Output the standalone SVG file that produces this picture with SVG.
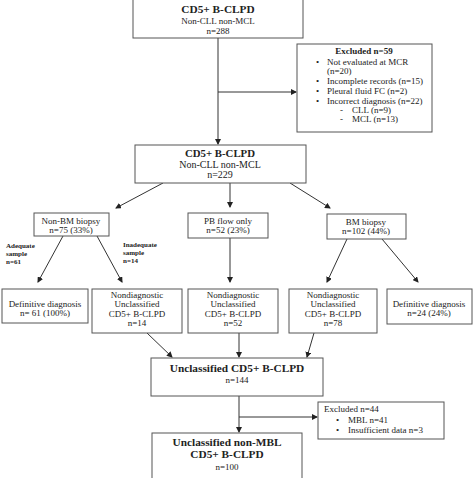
<svg xmlns="http://www.w3.org/2000/svg" width="474" height="478" viewBox="0 0 474 478">
<defs>
<marker id="ah" markerWidth="6" markerHeight="6" refX="5" refY="3" orient="auto" markerUnits="userSpaceOnUse">
<path d="M0,0 L6,3 L0,6 z" fill="#222"/>
</marker>
<style>
rect{fill:#fff;stroke:#555;stroke-width:1}
text{font-family:"Liberation Serif","Times New Roman",serif;fill:#222;font-size:9px}
.c{text-anchor:middle}
.b{font-weight:bold}
.t{font-size:11.3px;font-weight:bold}
.s{font-size:7px;font-weight:bold}
.con line,.con path{stroke:#333;stroke-width:1;fill:none}
.ar{marker-end:url(#ah)}
</style>
</defs>
<rect x="0" y="0" width="474" height="478" style="fill:#fff;stroke:none"/>
<g class="con">
<line x1="218" y1="38" x2="218" y2="144" class="ar"/>
<line x1="218" y1="92" x2="296" y2="92" class="ar"/>
<line x1="163" y1="183" x2="116" y2="208" class="ar"/>
<line x1="230" y1="183" x2="230" y2="207" class="ar"/>
<line x1="290" y1="183" x2="330" y2="208" class="ar"/>
<line x1="63" y1="236" x2="38" y2="282" class="ar"/>
<line x1="97" y1="236" x2="122" y2="282" class="ar"/>
<line x1="230" y1="238" x2="230" y2="282" class="ar"/>
<line x1="347" y1="239" x2="327" y2="282" class="ar"/>
<line x1="382" y1="239" x2="418" y2="282" class="ar"/>
<line x1="147" y1="333" x2="172" y2="357" class="ar"/>
<line x1="239" y1="333" x2="239" y2="357" class="ar"/>
<line x1="314" y1="333" x2="307" y2="357" class="ar"/>
<line x1="239" y1="396" x2="239" y2="432" class="ar"/>
<line x1="239" y1="417" x2="317" y2="417" class="ar"/>
</g>
<g id="n-top">
<rect x="133" y="-1" width="170" height="39"/>
<text x="218" y="13" class="c t">CD5+ B-CLPD</text>
<text x="218" y="24" class="c">Non-CLL non-MCL</text>
<text x="218" y="34" class="c">n=288</text>
</g>
<g id="n-excl1">
<rect x="297" y="44" width="135" height="88"/>
<text x="364" y="54" class="c b">Excluded n=59</text>
<text x="316" y="65">•</text><text x="327" y="65">Not evaluated at MCR</text>
<text x="327" y="74">(n=20)</text>
<text x="316" y="84">•</text><text x="327" y="84">Incomplete records (n=15)</text>
<text x="316" y="94">•</text><text x="327" y="94">Pleural fluid FC (n=2)</text>
<text x="316" y="104">•</text><text x="327" y="104">Incorrect diagnosis (n=22)</text>
<text x="340" y="113">-</text><text x="352" y="113">CLL (n=9)</text>
<text x="340" y="122">-</text><text x="352" y="122">MCL (n=13)</text>
</g>
<g id="n-229">
<rect x="135" y="145" width="171" height="38"/>
<text x="220" y="157" class="c t" style="font-size:10.8px">CD5+ B-CLPD</text>
<text x="220" y="168" class="c" style="font-size:10px">Non-CLL non-MCL</text>
<text x="220" y="178" class="c" style="font-size:10px">n=229</text>
</g>
<g id="n-nonbm">
<rect x="34" y="213" width="75" height="23"/>
<text x="71" y="224" class="c">Non-BM biopsy</text>
<text x="71" y="233" class="c">n=75 (33%)</text>
</g>
<g id="n-pb">
<rect x="188" y="213" width="80" height="25"/>
<text x="228" y="224" class="c">PB flow only</text>
<text x="228" y="233" class="c">n=52 (23%)</text>
</g>
<g id="n-bm">
<rect x="327" y="214" width="79" height="25"/>
<text x="366" y="225" class="c">BM biopsy</text>
<text x="366" y="234" class="c">n=102 (44%)</text>
</g>
<g id="lbl-adequate">
<text x="6" y="248" class="s">Adequate</text>
<text x="6" y="256" class="s">sample</text>
<text x="6" y="264" class="s">n=61</text>
</g>
<g id="lbl-inadequate">
<text x="123" y="247" class="s">Inadequate</text>
<text x="123" y="255" class="s">sample</text>
<text x="123" y="263" class="s">n=14</text>
</g>
<g id="n-def1">
<rect x="2" y="289" width="86" height="34"/>
<text x="45" y="307" class="c">Definitive diagnosis</text>
<text x="45" y="316" class="c">n= 61 (100%)</text>
</g>
<g id="n-nd1">
<rect x="92" y="289" width="90" height="44"/>
<text x="137" y="298" class="c">Nondiagnostic</text>
<text x="137" y="307" class="c">Unclassified</text>
<text x="137" y="317" class="c">CD5+ B-CLPD</text>
<text x="137" y="326" class="c">n=14</text>
</g>
<g id="n-nd2">
<rect x="188" y="289" width="90" height="44"/>
<text x="233" y="298" class="c">Nondiagnostic</text>
<text x="233" y="307" class="c">Unclassified</text>
<text x="233" y="317" class="c">CD5+ B-CLPD</text>
<text x="233" y="326" class="c">n=52</text>
</g>
<g id="n-nd3">
<rect x="289" y="289" width="88" height="44"/>
<text x="333" y="298" class="c">Nondiagnostic</text>
<text x="333" y="307" class="c">Unclassified</text>
<text x="333" y="317" class="c">CD5+ B-CLPD</text>
<text x="333" y="326" class="c">n=78</text>
</g>
<g id="n-def2">
<rect x="387" y="289" width="85" height="35"/>
<text x="429" y="307" class="c">Definitive diagnosis</text>
<text x="429" y="316" class="c">n=24 (24%)</text>
</g>
<g id="n-144">
<rect x="151" y="358" width="172" height="38"/>
<text x="237" y="372" class="c t">Unclassified CD5+ B-CLPD</text>
<text x="237" y="383" class="c">n=144</text>
</g>
<g id="n-excl2">
<rect x="318" y="402" width="126" height="37"/>
<text x="324" y="412">Excluded n=44</text>
<text x="336" y="423">•</text><text x="348" y="423">MBL n=41</text>
<text x="336" y="433">•</text><text x="348" y="433">Insufficient data n=3</text>
</g>
<g id="n-100">
<rect x="152" y="433" width="150" height="50"/>
<text x="227" y="446" class="c t">Unclassified non-MBL</text>
<text x="227" y="458" class="c t">CD5+ B-CLPD</text>
<text x="227" y="470" class="c">n=100</text>
</g>
</svg>
